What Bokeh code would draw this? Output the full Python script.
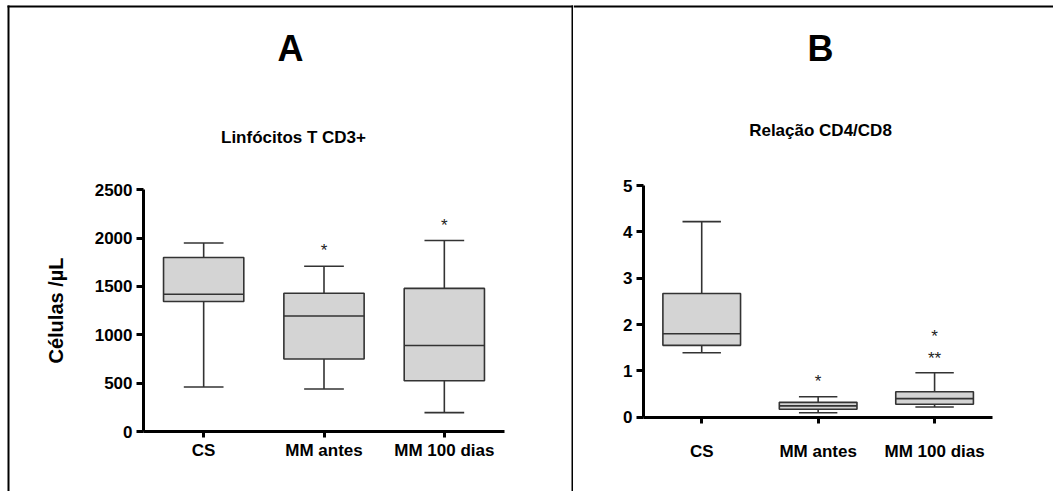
from bokeh.plotting import figure
from bokeh.layouts import row
from bokeh.models import Range1d, FixedTicker, Label, BoxAnnotation, ColumnDataSource
from bokeh.embed import file_html
from bokeh.resources import INLINE

categories = ["CS", "MM antes", "MM 100 dias"]

# Panel A - Linfócitos T CD3+ (células/µL)
a_min = [460, 440, 195]
a_q1 = [1345, 750, 525]
a_median = [1420, 1195, 890]
a_q3 = [1800, 1430, 1480]
a_max = [1950, 1710, 1975]
a_star_cat = ["MM antes", "MM 100 dias"]
a_star_text = ["*", "*"]
a_star_y = [1890, 2150]
a_ticks = [0, 500, 1000, 1500, 2000, 2500]

# Panel B - Relação CD4/CD8
b_min = [1.39, 0.095, 0.22]
b_q1 = [1.55, 0.17, 0.28]
b_median = [1.80, 0.245, 0.40]
b_q3 = [2.67, 0.32, 0.55]
b_max = [4.22, 0.44, 0.96]
b_star_cat = ["MM antes", "MM 100 dias", "MM 100 dias"]
b_star_text = ["*", "*", "**"]
b_star_y = [0.81, 1.78, 1.31]
b_ticks = [0, 1, 2, 3, 4, 5]

FONT = "Liberation Sans"
BOX_FILL = "#d4d4d4"
BOX_LINE = "#333333"
HEIGHT = 491


class Mapper:
    """pixel <-> data mapping for one panel (pixels from the canvas top-left)."""
    def __init__(self, px0, px1, vx0, vx1, py0, py1, vy0, vy1):
        self.sx = (vx1 - vx0) / (px1 - px0)
        self.px0, self.vx0 = px0, vx0
        self.sy = (vy1 - vy0) / (py1 - py0)
        self.py0, self.vy0 = py0, vy0

    def x(self, px):
        return self.vx0 + (px - self.px0) * self.sx

    def y(self, py):
        return self.vy0 + (py - self.py0) * self.sy


def make_panel(width, m, ymax, ticks, mins, q1, med, q3, maxs,
               star_cat, star_text, star_y, big, sub, big_px, sub_px,
               ylabel, xstandoff):
    p = figure(width=width, height=HEIGHT,
               x_range=Range1d(m.x(0), m.x(width)),
               y_range=Range1d(m.y(HEIGHT), m.y(0)),
               output_backend="svg", toolbar_location=None, min_border=0)
    p.title.visible = False
    p.outline_line_color = None
    p.xgrid.visible = False
    p.ygrid.visible = False
    p.background_fill_color = "white"
    p.border_fill_color = "white"

    xpos = [i + 1 for i in range(len(categories))]
    src = ColumnDataSource(dict(x=xpos, lo=mins, q1=q1, med=med, q3=q3, hi=maxs,
                                cl=[v - 0.165 for v in xpos], cr=[v + 0.165 for v in xpos],
                                bl=[v - 0.3335 for v in xpos], br=[v + 0.3335 for v in xpos]))
    wl = dict(line_color=BOX_LINE, line_width=1.6)
    p.segment(x0="x", y0="q3", x1="x", y1="hi", source=src, **wl)
    p.segment(x0="x", y0="q1", x1="x", y1="lo", source=src, **wl)
    p.segment(x0="cl", y0="hi", x1="cr", y1="hi", source=src, **wl)
    p.segment(x0="cl", y0="lo", x1="cr", y1="lo", source=src, **wl)
    p.vbar(x="x", width=0.667, bottom="q1", top="q3", source=src,
           fill_color=BOX_FILL, line_color=BOX_LINE, line_width=1.6)
    p.segment(x0="bl", y0="med", x1="br", y1="med", source=src, **wl)

    sx = [categories.index(c) + 1 for c in star_cat]
    ssrc = ColumnDataSource(dict(x=sx, y=star_y, t=star_text))
    p.text(x="x", y="y", text="t", source=ssrc, text_align="center",
           text_baseline="middle", text_font_size="17px", text_color="#222222",
           y_offset=2, text_font={"value": FONT})

    xa, ya = p.xaxis[0], p.yaxis[0]
    for ax in (xa, ya):
        ax.axis_line_width = 3
        ax.axis_line_color = "black"
        ax.major_tick_line_width = 3
        ax.major_tick_line_color = "black"
        ax.major_tick_in = 0
        ax.minor_tick_line_color = None
        ax.major_label_text_font = FONT
        ax.major_label_text_font_style = "bold"
        ax.major_label_text_font_size = "17px"
        ax.major_label_text_color = "black"
    xa.fixed_location = 0
    xa.bounds = (0.5, len(categories) + 0.5)
    xa.ticker = FixedTicker(ticks=xpos)
    xa.major_label_overrides = {v: c for v, c in zip(xpos, categories)}
    xa.major_tick_out = 6
    xa.major_label_standoff = xstandoff
    ya.fixed_location = 0.5
    ya.bounds = (0, ymax)
    ya.ticker = FixedTicker(ticks=ticks)
    ya.major_tick_out = 7
    ya.major_label_standoff = 4
    if ylabel:
        ya.axis_label = ylabel
        ya.axis_label_text_font = FONT
        ya.axis_label_text_font_style = "bold"
        ya.axis_label_text_font_size = "20px"
        ya.axis_label_text_color = "black"
        ya.axis_label_standoff = 25

    p.add_layout(Label(x=m.x(big_px[0]), y=m.y(big_px[1]), text=big, text_align="center",
                       text_baseline="alphabetic", text_font=FONT,
                       text_font_style="bold", text_font_size="36px", text_color="black"))
    p.add_layout(Label(x=m.x(sub_px[0]), y=m.y(sub_px[1]), text=sub, text_align="center",
                       text_baseline="alphabetic", text_font=FONT,
                       text_font_style="bold", text_font_size="17px", text_color="black"))
    return p


def frame_line(p, m, left, right, top, bottom):
    p.add_layout(BoxAnnotation(left=m.x(left), right=m.x(right), top=m.y(top), bottom=m.y(bottom),
                               fill_color="black", fill_alpha=1, line_color=None))


mA = Mapper(143, 504, 0.5, 3.5, 431, 189.3, 0, 2500)
pA = make_panel(573, mA, 2500, a_ticks, a_min, a_q1, a_median, a_q3, a_max,
                a_star_cat, a_star_text, a_star_y, "A", "Linfócitos T CD3+",
                (290, 48), (293, 137), "Células /µL", 3)
frame_line(pA, mA, 7, 9, 5, HEIGHT)
frame_line(pA, mA, 7, 573, 5, 7)
frame_line(pA, mA, 571, 573, 5, HEIGHT)

mB = Mapper(70, 419.3, 0.5, 3.5, 416.7, 185, 0, 5)
pB = make_panel(480, mB, 5, b_ticks, b_min, b_q1, b_median, b_q3, b_max,
                b_star_cat, b_star_text, b_star_y, "B", "Relação CD4/CD8",
                (247, 48), (247, 130), None, 19)
frame_line(pB, mB, 0, 480, 5, 7)

layout = row(pA, pB, spacing=0)
open("out.html", "w").write(file_html(layout, INLINE))
